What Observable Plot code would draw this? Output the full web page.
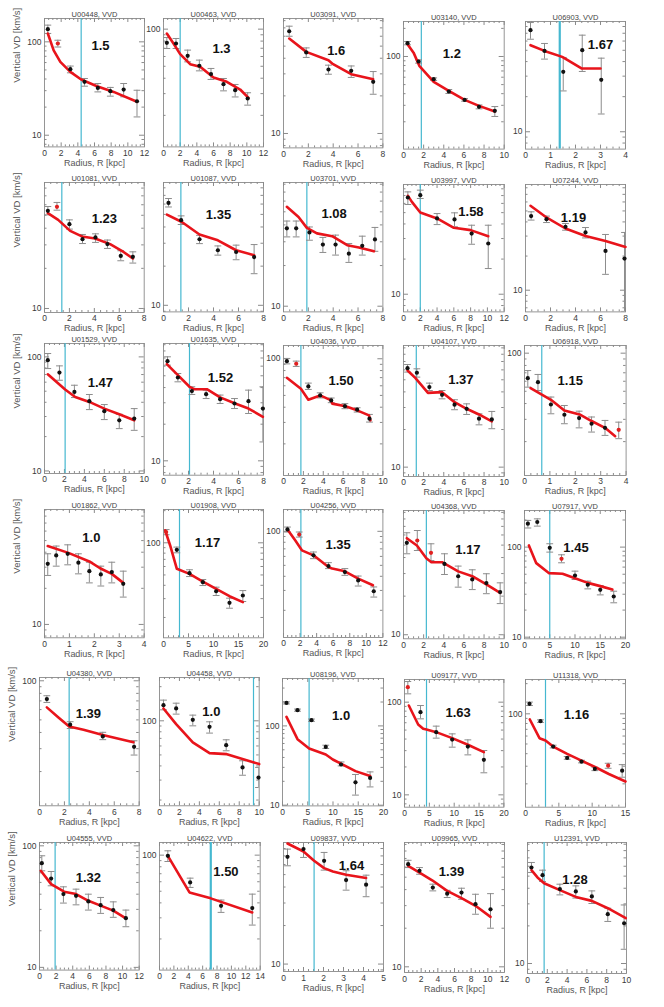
<!DOCTYPE html>
<html><head><meta charset="utf-8">
<script src="https://cdn.jsdelivr.net/npm/d3@7"></script>
<script src="https://cdn.jsdelivr.net/npm/@observablehq/plot@0.6"></script>
<style>
body{margin:0;background:#fff;}
#chart{position:relative;width:664px;height:1007px;overflow:hidden;background:#fff;}
#chart svg{position:absolute;overflow:visible;}
</style></head><body><div id="chart"></div>
<script>
// ---------- data ----------
const galaxies = ["U00448","U00463","U03091","U03140","U06903",
  "U01081","U01087","U03701","U03997","U07244",
  "U01529","U01635","U04036","U04107","U06918",
  "U01862","U01908","U04256","U04368","U07917",
  "U04380","U04458","U08196","U09177","U11318",
  "U04555","U04622","U09837","U09965","U12391"];
const betaLabels = ["1.5","1.3","1.6","1.2","1.67",
  "1.23","1.35","1.08","1.58","1.19",
  "1.47","1.52","1.50","1.37","1.15",
  "1.0","1.17","1.35","1.17","1.45",
  "1.39","1.0","1.0","1.63","1.16",
  "1.32","1.50","1.64","1.39","1.28"];
const xMax = [12,12,8,10,4, 8,8,8,12,8, 10,8,10,10,4, 4,20,12,10,20, 8,10,20,20,15, 12,14,5,12,10];
const xStep = [2,2,2,2,1, 2,2,2,2,2, 2,2,2,2,1, 1,5,2,2,5, 2,2,5,5,5, 2,2,1,2,2];
const vdRange = [[7.5,177.8],[11.1,122],[7.67,83.2],[10.2,237],[7.1,88.3],
  [9.33,88.1],[8.9,87.9],[9.08,82.4],[7.06,87.1],[6.44,85.5],
  [9.5,131],[7.62,92.1],[11.0,128.5],[8.42,94.0],[10.8,115],
  [7.74,90.8],[12.9,205],[11.5,156],[9.3,93.1],[9.6,255],
  [10.9,106],[17.8,241],[9.8,396],[7.36,175.6],[11.7,220],
  [9.5,106.5],[11.0,127.5],[8.75,89.1],[9.03,93.2],[8.32,92.9]];
const vLineR = [4.4,2.0,null,1.77,1.37, 1.39,1.39,1.88,2.0,null, 2.07,2.08,1.75,1.27,0.68,
  null,3.2,2.1,2.27,5.0, 2.38,9.43,5.27,4.43,3.0, 1.88,7.13,1.53,null,1.68];
const radius = [
  [0.4,1.6,3.1,4.8,6.4,7.9,9.5,11.1],
  [0.4,1.5,2.9,4.3,5.7,7.2,8.6,10.1],
  [0.46,1.83,3.62,5.45,7.22],
  [0.4,1.5,3.0,4.5,6.07,7.5,9.07],
  [0.2,0.76,1.51,2.27,3.03],
  [0.27,1.0,2.0,3.05,4.09,5.05,6.12,7.09],
  [0.4,1.41,2.88,4.35,5.81,7.25],
  [0.27,1.02,2.09,3.17,4.19,5.26,6.34,7.36],
  [0.52,2.0,4.0,6.08,8.12,10.1],
  [0.45,1.68,3.2,4.8,6.4,7.92],
  [0.33,1.5,3.0,4.5,6.0,7.5,9.0],
  [0.32,1.15,2.27,3.41,4.53,5.68,6.8,7.95],
  [0.34,1.28,2.5,3.69,4.8,6.18,7.41,8.65],
  [0.4,1.33,2.57,3.83,5.07,6.27,7.5,8.77],
  [0.13,0.53,1.04,1.57,2.15,2.64,3.17,3.71],
  [0.13,0.47,0.93,1.36,1.8,2.26,2.7,3.16],
  [0.53,2.67,5.2,7.87,10.53,13.2,15.87],
  [0.48,1.9,3.62,5.43,7.41,9.02,10.9],
  [0.33,1.37,2.73,4.07,5.43,6.83,8.23,9.6],
  [0.67,2.53,5.0,7.33,10.0,12.53,15.0,17.67],
  [0.59,2.46,5.08,7.59],
  [0.4,1.67,3.34,5.02,6.69,8.33,9.93],
  [0.79,2.97,5.74,8.57,11.6,14.45,17.35],
  [0.67,3.22,6.38,9.6,12.75,15.97],
  [0.6,2.25,4.15,6.25,8.4,10.4,12.4,14.5],
  [0.28,1.4,2.88,4.4,5.88,7.36,8.88,10.4],
  [1.16,4.26,8.56,12.9],
  [0.2,1.0,2.03,3.13,4.13],
  [0.44,1.8,3.4,5.12,6.84,8.52,10.32],
  [0.4,1.52,3.27,4.88,6.5,8.11,9.76]];
const vd = [
  [136.7,96,51,37.3,32.1,29.6,30.8,23.1],
  [77.4,76.5,60.8,50.5,43.2,35.8,32.0,27.4],
  [65.8,44.5,32.5,31.7,25.9],
  [139,88.4,57.2,42.2,34.3,28.9,26.2],
  [74.4,49.4,32.7,50.1,27.9],
  [54.0,57.9,42.9,33.1,34.1,30.4,24.8,24.4],
  [61.2,45.1,32.2,26.5,25.7,23.5],
  [37.7,37.7,35.2,28.6,28.6,24.5,28.0,31.2],
  [67.4,70.6,44.6,43.7,33.1,27.2],
  [45.0,42.3,36.2,32.3,22.2,19.0],
  [93.5,72.9,49.3,40.9,33.4,27.8,28.8],
  [65.9,48.4,37.4,35.3,32.1,29.6,30.9,26.9],
  [95.6,91.0,59.3,50.0,45.5,40.8,38.2,32.2],
  [61.9,56.9,43.7,37.9,31.6,29.3,24.4,24.1],
  [63.5,59.0,39.3,32.6,30.7,27.7,25.7,24.8],
  [32.0,37.6,38.8,32.7,27.8,26.1,27.3,21.8],
  [125.9,85.9,52.0,42.8,35.2,27.4,32.1],
  [104,93.5,61.3,49.3,43.6,36.8,29.5],
  [52.1,54.3,43.5,35.7,28.6,27.0,25.3,21.5],
  [182,190,98.3,74.2,48.4,38.2,33.6,28.3],
  [72.3,45.9,37.3,31.0],
  [137.5,128.5,102,88.5,61.0,38.8,31.6],
  [195,158,118,54.3,32.6,19.4,22.1],
  [145,78,47.5,39.5,33.2,23.9],
  [125.9,84.5,47.1,36.3,33.4,28.2,30.4,27.1],
  [72.0,53.8,40.1,38.8,34.9,32.5,29.6,25.4],
  [98.7,59.2,37.8,36.2],
  [68.9,79.1,64.1,45.3,41.7],
  [63.1,56.0,41.5,37.2,37.9,30.8,28.1],
  [58.6,50.9,39.4,37.7,34.4,24.8,21.0]];
const vdHigh = [
  [151,104,55,40.5,35.8,32.5,35.8,30.3],
  [85.5,84.0,67.6,56.1,48.0,39.8,35.6,30.5],
  [72.2,48.4,35.2,34.7,31.3],
  [144.8,92.1,59.0,44.3,35.4,30.3,29.1],
  [86.5,57.2,43.4,67.4,42.8],
  [58.2,62.4,46.2,35.9,36.3,32.6,27.1,26.6],
  [66.2,48.7,34.5,28.6,29.0,29.3],
  [42.7,42.7,38.6,32.3,33.6,29.1,33.0,38.3],
  [75.3,77.9,49.1,49.8,39.0,39.0],
  [49.1,45.0,38.7,35.7,31.0,32.3],
  [107,83.4,56.4,46.8,38.2,31.4,35.2],
  [71.6,52.2,40.6,38.1,34.7,32.5,38.1,40.6],
  [100.6,95.6,63.1,52.5,47.6,42.8,39.6,34.9],
  [66.2,61.2,47.0,41.0,34.6,32.1,26.7,27.9],
  [72.9,67.9,45.0,38.6,34.8,31.3,29.4,28.5],
  [38.8,45.0,46.1,38.8,33.0,30.6,33.0,27.8],
  [133,91.1,55.9,45.3,38.4,30.3,35.7],
  [109.1,98.6,65.6,52.8,46.8,40.2,32.2],
  [62.4,65.0,51.2,42.8,34.3,32.1,29.9,25.4],
  [198,206,109,82.2,54.1,41.9,37.5,32.4],
  [76.7,48.4,40.1,34.5],
  [152.2,143,112.2,98,68.0,44.4,38.8],
  [201,163,122,57.1,35.1,24.4,26.3],
  [167,92,55.1,45.5,39.2,30.1],
  [130.9,87.1,48.6,37.4,34.4,29.3,32.1,31.1],
  [82.8,61.5,46.0,44.0,40.0,37.6,34.6,29.6],
  [108.7,64.3,42.2,47.3],
  [79.1,89.1,74.5,53.6,49.5],
  [67.7,59.4,44.1,39.5,41.0,36.8,37.2],
  [64.3,55.8,43.1,41.8,38.1,27.7,29.4]];
const vdLow = [
  [123,88,46.6,33.5,29.1,26.2,25.8,15.7],
  [69.7,69.7,54.3,45.9,39.1,31.6,28.2,24.2],
  [60.0,40.6,29.8,28.1,20.6],
  [133.4,84.8,55.5,40.2,33.2,27.5,22.8],
  [62.2,42.0,22.4,32.9,14.2],
  [50.4,54.6,39.4,30.7,31.3,28.2,22.8,21.9],
  [57.0,41.8,29.8,24.3,22.4,17.5],
  [32.6,32.6,30.8,25.0,23.9,21.1,23.9,25.5],
  [58.7,66.1,39.5,37.8,26.8,16.6],
  [41.5,39.5,33.8,28.9,13.8,6.5],
  [79,62.4,44,34.5,28.2,23.5,22.7],
  [61.1,44.6,35.1,32.5,29.6,26.9,24.5,14.3],
  [90.8,86.5,56.0,47.7,43.6,38.9,36.5,30.2],
  [57.6,52.5,41.0,35.2,28.8,26.4,21.8,20.3],
  [53.9,50.7,33.2,27.7,25.7,23.8,22.4,21.1],
  [25.6,30.6,31.4,26.4,22.2,20.9,22.2,16.9],
  [119,80.6,48.3,39.8,32.1,24.4,28.2],
  [98.6,88.9,57.3,46.8,40.8,32.8,26.2],
  [42.8,45.4,37.9,29.5,23.5,22.5,20.9,17.5],
  [163,171,88,67.0,43.7,34.4,29.5,24.1],
  [68.1,42.9,35.2,26.8],
  [125,114.5,90.3,77.9,54.4,33.1,25.8],
  [189,153,114,51.9,31.3,13.4,17.0],
  [123,66.1,40.9,32.7,27.0,17.3],
  [121.0,82.0,45.7,35.2,32.4,27.1,28.6,23.3],
  [62.3,46.9,33.8,32.7,29.6,27.8,25.8,21.6],
  [88.5,53.8,33.3,26.1],
  [58.6,68.1,54.2,37.8,33.6],
  [59.4,52.7,39.1,34.7,33.6,25.7,20.0],
  [53.5,45.3,35.4,33.4,30.2,21.7,13.0]];
const modelR = [
  [0.4,1.1,1.9,3.1,4.4,6.3,8.3,11.1],
  [0.4,1.2,2.0,3.2,4.4,6.0,7.6,9.2,10.2],
  [0.46,1.83,3.62,3.92,5.45,7.22],
  [0.4,1.0,1.57,3.0,4.5,6.07,7.5,9.07],
  [0.2,0.76,1.47,2.24,3.0],
  [0.27,1.1,2.06,3.0,4.06,5.27,6.2,7.09],
  [0.27,1.47,2.88,4.35,5.81,7.25],
  [0.27,1.21,1.88,2.69,3.92,5.13,6.07,7.28],
  [0.52,1.0,2.0,4.0,6.0,8.0,10.1],
  [0.4,1.6,3.2,4.8,6.4,8],
  [0.33,2.07,3.08,4.5,6.0,7.5,9.0],
  [0.27,1.15,2.08,2.45,3.47,4.53,5.73,6.8,7.95],
  [0.34,1.75,2.5,3.69,4.8,4.9,6.24,7.41,8.6,8.75],
  [0.4,1.17,2.43,3.83,5.07,6.27,7.5,8.77],
  [0.24,1.04,1.57,2.17,2.64,3.17,3.57],
  [0.13,0.96,1.8,2.23,2.7,3.16],
  [0.33,1.33,2.67,5.2,7.87,10.53,13.2,15.87],
  [0.48,1.41,2.22,3.62,5.43,5.88,7.41,9.02,10.8],
  [0.33,1.33,2.27,2.77,3.83,5.43,6.83,8.23,9.6],
  [0.87,2.33,4.87,7.53,10.0,12.53,15,17.4],
  [0.59,1.52,2.38,3.53,5.08,7.54],
  [0.4,1.67,3.34,5.02,6.76,10],
  [0.79,2.97,5.27,8.57,9.96,14.45,17.35],
  [0.87,2.75,3.76,4.43,6.38,9.6,12.75,15.97],
  [0.65,2.1,3.0,4.15,6.25,8.4,10.5,12.5,15],
  [0.16,1.4,2.96,4.4,5.88,7.36,8.88,10.4],
  [1.16,4.17,7.13,12.9],
  [0.2,1.0,1.53,2.03,2.47,3.13,4.13],
  [0.44,1.8,3.32,5.12,6.84,8.52,10.32],
  [0.4,1.01,1.68,3.27,4.88,6.5,8.11,9.93]];
const modelVD = [
  [122.8,81,61,47.7,39.5,33.5,29.1,22.8],
  [92.2,76.5,62.7,52.0,49.5,40.6,37.4,32.4,27.7],
  [57.5,45.0,38.5,36.3,29.8,27.2],
  [135.6,110,79.4,53.5,42.9,34.3,29.6,25.8],
  [55.3,49.4,43.9,34.9,34.9],
  [51.9,46.2,38.2,34.7,33.5,30.4,27.1,23.7],
  [49.8,43.7,35.0,31.6,26.5,24.3],
  [54.4,45.8,38.0,34.6,33.0,28.3,27.2,25.5],
  [69.7,61.8,50.1,44.6,37.1,35.4,31.4],
  [55.5,44.4,35.0,30.1,27.1,24.1],
  [70.4,51.7,44.5,40.3,35.2,31.4,27.8],
  [62.4,50.6,40.6,38.8,38.8,33.2,29.6,26.9,23.0],
  [69.8,56.7,46.1,50.0,45.5,42.8,40.8,37.7,34.3,31.2],
  [59.3,51.8,39.3,39.8,33.1,29.3,26.4,23.2],
  [52.9,42.8,35.3,32.8,29.1,25.7,22.1],
  [45.0,39.5,33.5,29.4,26.4,22.2],
  [130.6,94.4,57.1,51.2,43.4,37.1,31.6,27.8],
  [104,83.2,67.9,61.3,48.3,46.8,44.3,38.2,33.3],
  [56.6,49.6,39.5,36.8,36.8,31.2,28.6,24.7,21.2],
  [104.4,66.4,51.4,50.6,45.2,40.1,36.9,33.8],
  [62.4,52.2,44.5,42.0,38.2,33.6],
  [128.5,93.5,64.4,51.9,50.8,41.5],
  [130,68,51.9,43.6,37.7,26.9,23.4],
  [92,57.4,51.6,50.7,47.5,40.9,34.7,28.9],
  [87.8,57.1,54.1,47.1,39.8,34.1,29.3,25.1,21.1],
  [62.3,48.4,41.9,40.1,35.3,32.2,29.3,25.3],
  [98.7,48.9,43.6,33.3],
  [87.5,75.8,64.1,56.2,52.9,49.9,47.0],
  [61.2,54.3,47.3,39.1,34.3,29.9,24.5],
  [55.8,48.8,43.9,38.6,34.1,31.7,27.7,23.1]];

// ---------- layout & style ----------
const frames = [
  [44.3,18.3,144.3,146.7],[163.3,18.3,263.3,146.7],[283.3,18.3,382.7,147.7],[403,20.7,503.7,148.3],[525.3,20.7,625.3,148.3],
  [44.3,181.7,144,311.7],[163.3,182.3,263.3,311.7],[283.3,182.3,382.7,311.7],[403,184.3,503.7,311.7],[525.3,184.3,625.3,311.7],
  [44.3,343.3,144,473.3],[163.3,343.3,263.3,475],[283.3,345,382.7,475],[403,345,503.7,476],[523.7,345,625.3,475],
  [44.3,509,144,637.3],[163.3,509,263.3,637.3],[283.3,509,382.7,637],[403,510,503.7,638.3],[524.3,510,625.3,638.3],
  [39.3,676.7,139,805],[159.3,676.7,259,805],[281.7,678.3,382.7,805.7],[404.3,679,503.7,806.7],[525.3,679,625.3,806.7],
  [39.3,841.7,139,969.3],[159.3,841.7,260,969.3],[282.7,841.7,382.7,970.7],[404.3,841.7,504.3,971.7],[527,841.7,626,972.7]];
const labelPos = [
  [0.56,0.17],[0.58,0.195],[0.53,0.21],[0.48,0.217],[0.75,0.14],
  [0.6,0.24],[0.55,0.21],[0.51,0.2],[0.67,0.175],[0.48,0.22],
  [0.56,0.26],[0.57,0.22],[0.58,0.23],[0.57,0.22],[0.45,0.23],
  [0.47,0.18],[0.44,0.22],[0.55,0.24],[0.64,0.27],[0.51,0.25],
  [0.49,0.24],[0.52,0.23],[0.58,0.25],[0.54,0.22],[0.51,0.24],
  [0.49,0.24],[0.66,0.19],[0.68,0.14],[0.47,0.19],[0.48,0.25]];
const redPoints = [[1],[],[],[],[], [1],[],[],[],[], [],[],[1],[],[7], [],[0],[1],[1,2],[3], [],[],[],[0],[6], [],[],[],[],[]];
const thickVLine = [4, 26];

const FRAME = "#8a8a8a", ERR = "#8c8c8c", RED = "#e8141b", CYAN = "#45b8d0", TXT = "#3a3a3a";
const FONT = "'Liberation Sans', Arial, sans-serif";
const cap = {draw(ctx, size) { const w = Math.sqrt(size / Math.PI); ctx.moveTo(-w, 0); ctx.lineTo(w, 0); }};

const chart = document.getElementById("chart");
const mL = 40, mR = 8, mT = 15, mB = 28;

galaxies.forEach((name, i) => {
  const [L, T, R, B] = frames[i];
  const W = R - L, H = B - T;
  const pts = radius[i].map((r, j) => ({r, vd: vd[i][j], lo: vdLow[i][j], hi: vdHigh[i][j], red: redPoints[i].includes(j)}));
  const model = modelR[i].map((r, j) => ({r, vd: modelVD[i][j]}));
  const [y0, y1] = vdRange[i];
  const majorX = d3.range(0, xMax[i] + 1e-9, xStep[i]);
  const minorX = d3.range(0, xMax[i] + 1e-9, xStep[i] / (xStep[i] === 5 ? 5 : 4)).filter(v => !majorX.some(m => Math.abs(m - v) < 1e-9));
  const logTicks = [];
  for (let e = 0; e <= 3; e++) for (let m = 1; m < 10; m++) { const v = m * 10 ** e; if (v >= y0 && v <= y1) logTicks.push(v); }
  const majorY = logTicks.filter(v => [1, 10, 100, 1000].includes(v));
  const minorY = logTicks.filter(v => !majorY.includes(v));
  const [fx, fy] = labelPos[i];
  const marks = [
    Plot.frame({stroke: FRAME, strokeWidth: 0.9}),
    Plot.tickX(majorX, {x: d => d, insetTop: H - 4, stroke: FRAME}),
    Plot.tickX(majorX, {x: d => d, insetBottom: H - 4, stroke: FRAME}),
    Plot.tickX(minorX, {x: d => d, insetTop: H - 2, stroke: FRAME}),
    Plot.tickX(minorX, {x: d => d, insetBottom: H - 2, stroke: FRAME}),
    Plot.tickY(majorY, {y: d => d, insetRight: W - 5, stroke: FRAME}),
    Plot.tickY(majorY, {y: d => d, insetLeft: W - 5, stroke: FRAME}),
    Plot.tickY(minorY, {y: d => d, insetRight: W - 2.5, stroke: FRAME}),
    Plot.tickY(minorY, {y: d => d, insetLeft: W - 2.5, stroke: FRAME}),
    Plot.text(majorX, {x: d => d, frameAnchor: "bottom", dy: 9, text: d => String(d), fill: TXT, fontSize: 8.5}),
    Plot.text(majorY, {y: d => d, frameAnchor: "left", dx: -3, textAnchor: "end", text: d => String(d), fill: TXT, fontSize: 8.5}),
    Plot.text(["Radius, R [kpc]"], {frameAnchor: "bottom", dy: 19, text: d => d, fill: "#555", fontSize: 9}),
    Plot.text([name + ", VVD"], {frameAnchor: "top", dy: -7, text: d => d, fill: "#444", fontSize: 7.5})
  ];
  if (i % 5 === 0) marks.push(Plot.text(["Vertical VD [km/s]"], {frameAnchor: "left", dx: -28, rotate: -90, text: d => d, fill: "#555", fontSize: 9.5}));
  if (vLineR[i] != null) marks.push(Plot.ruleX([vLineR[i]], {x: d => d, stroke: CYAN, strokeWidth: thickVLine.includes(i) ? 2.2 : 1.2}));
  marks.push(
    Plot.ruleX(pts, {x: "r", y1: "lo", y2: "hi", stroke: ERR, strokeWidth: 1, clip: true}),
    Plot.dot(pts, {x: "r", y: "hi", symbol: cap, r: 3.4, stroke: ERR, strokeWidth: 1, fill: "none", clip: true}),
    Plot.dot(pts, {x: "r", y: "lo", symbol: cap, r: 3.4, stroke: ERR, strokeWidth: 1, fill: "none", clip: true}),
    Plot.line(model, {x: "r", y: "vd", stroke: RED, strokeWidth: 2.6, strokeLinejoin: "round"}),
    Plot.dot(pts.filter(d => !d.red), {x: "r", y: "vd", r: 2.1, fill: "#111"}),
    Plot.dot(pts.filter(d => d.red), {x: "r", y: "vd", r: 2.1, fill: "#e02020"}),
    Plot.text([betaLabels[i]], {frameAnchor: "top-left", dx: fx * W, dy: fy * H, text: d => d, textAnchor: "middle", fontSize: 13, fontWeight: "bold", fill: "#111"})
  );
  const svg = Plot.plot({
    width: W + mL + mR, height: H + mT + mB,
    marginLeft: mL, marginRight: mR, marginTop: mT, marginBottom: mB,
    style: {background: "transparent", fontFamily: FONT, fontSize: "8.5px", maxWidth: "none", overflow: "visible"},
    x: {domain: [0, xMax[i]], axis: null},
    y: {type: "log", domain: [y0, y1], axis: null},
    marks
  });
  svg.style.left = (L - mL) + "px";
  svg.style.top = (T - mT) + "px";
  chart.appendChild(svg);
});
</script></body></html>
